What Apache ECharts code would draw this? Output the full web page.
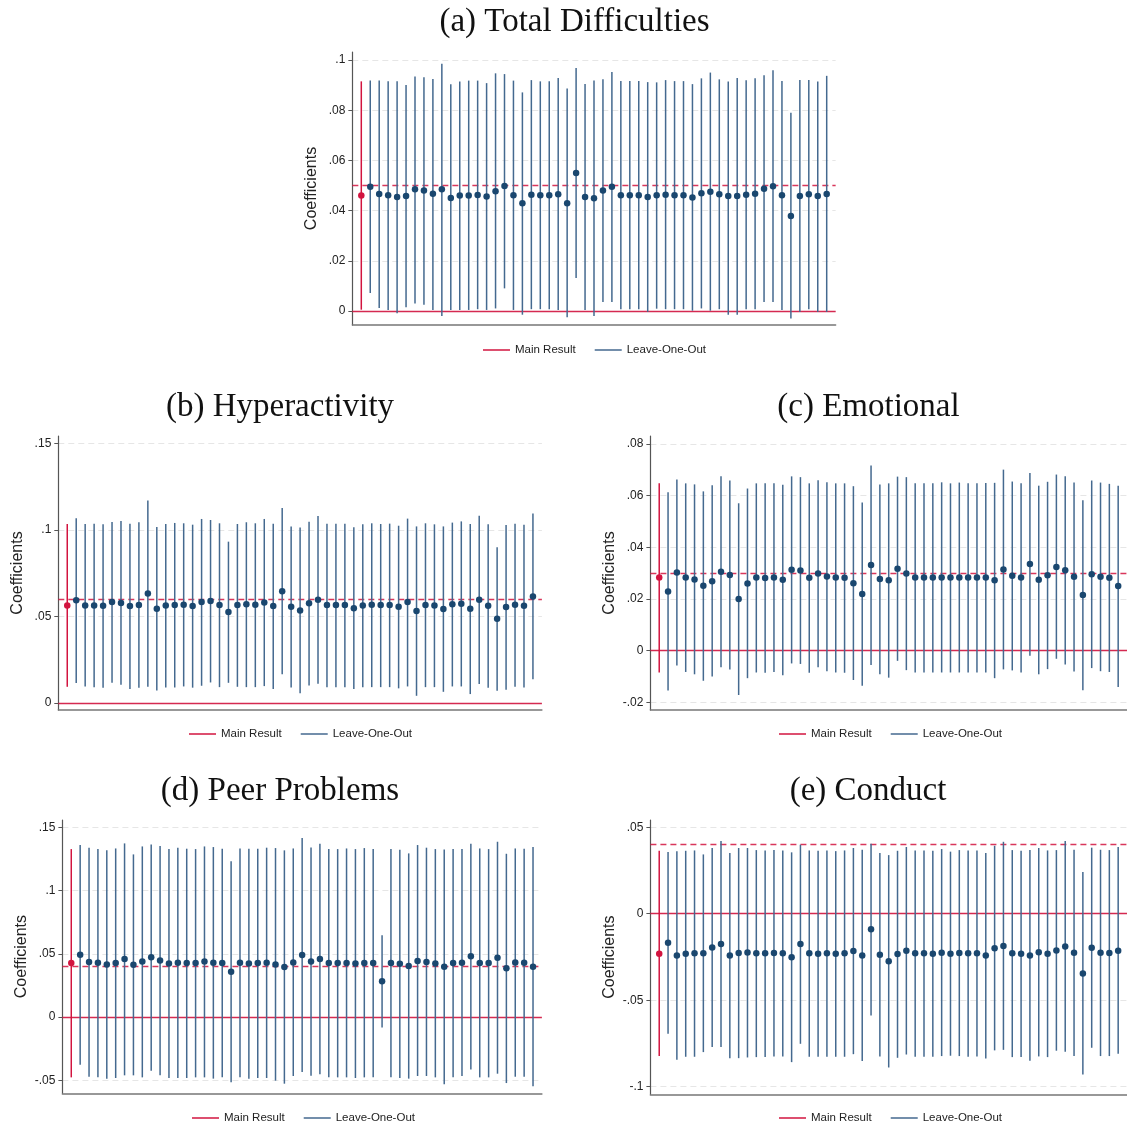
<!DOCTYPE html>
<html><head><meta charset="utf-8">
<script src="https://cdn.jsdelivr.net/npm/echarts@6/dist/echarts.min.js"></script>
<style>html,body{margin:0;padding:0;background:#fff}#c{width:1127px;height:1126px}</style>
</head><body><div id="c"></div>
<script>
// ---------------- DATA ----------------
const titles = ['(a) Total Difficulties', '(b) Hyperactivity', '(c) Emotional', '(d) Peer Problems', '(e) Conduct'];
const legendNames = ['Main Result', 'Leave-One-Out'];
const yAxisTitle = 'Coefficients';

// Main result: [estimate, lower CI, upper CI]
const mainA = [0.046, 0.0005, 0.0915];
const mainB = [0.0564, 0.0094, 0.1034];
const mainC = [0.0283, -0.0084, 0.0647];
const mainD = [0.0427, -0.0477, 0.1328];
const mainE = [-0.0231, -0.0823, 0.0364];

// dashed reference line value per panel
const refA = 0.046, refB = 0.0564, refC = 0.0283, refD = 0.0427, refE = 0.042;

// y tick values per panel
const ticksA = [0, 0.02, 0.04, 0.06, 0.08, 0.1];
const ticksB = [0, 0.05, 0.1, 0.15];
const ticksC = [-0.02, 0, 0.02, 0.04, 0.06, 0.08];
const ticksD = [-0.05, 0, 0.05, 0.1, 0.15];
const ticksE = [-0.1, -0.05, 0, 0.05];

// Leave-one-out estimates (52 each), lower and upper CI
const looEstA = [.0495,.0466,.0461,.0454,.0458,.0485,.048,.0467,.0485,.045,.046,.046,.0462,.0456,.0477,.0498,.0461,.0429,.0463,.0461,.0461,.0465,.0429,.055,.0454,.0449,.048,.0495,.0461,.0461,.0461,.0454,.0461,.0463,.0461,.0461,.0452,.0469,.0475,.0465,.0458,.0458,.0463,.0467,.0487,.0497,.0461,.0378,.0458,.0465,.0458,.0466];
const looHighA = [.0918,.0918,.0915,.0915,.090,.0934,.0931,.0924,.0985,.0903,.0914,.0918,.0918,.0908,.0947,.0944,.0918,.0871,.092,.0915,.0915,.0928,.0887,.0968,.0904,.0918,.0923,.0952,.0916,.0916,.0916,.0912,.0911,.092,.0916,.0916,.0904,.0927,.095,.0923,.0914,.0928,.0919,.0927,.0939,.0959,.0916,.079,.092,.092,.0914,.0937];
const looLowA = [.0072,.0012,.0004,-.0009,.0015,.003,.0025,.0004,-.002,.0004,.0004,.0004,.0007,.0004,.001,.009,.0004,-.0015,.0007,.0007,.0007,.0004,-.0025,.0131,.0004,-.002,.0036,.0036,.0007,.0007,.0007,-.0004,.0009,.0007,.0007,.0007,.0001,.001,.0001,.0007,-.0015,-.0015,.0007,.0007,.0036,.0036,.0004,-.003,-.0004,.0007,-.0004,-.0004];

const looEstB = [.0593,.0564,.0564,.0562,.0583,.0578,.056,.0566,.0632,.0545,.0564,.0566,.0568,.056,.0583,.0589,.0566,.0526,.0566,.057,.0568,.058,.056,.0645,.0556,.0535,.0576,.0597,.0566,.0566,.0566,.0547,.0564,.0568,.0566,.0566,.0556,.0583,.0531,.0566,.0564,.0543,.057,.0574,.0545,.0597,.0562,.0487,.0554,.0568,.0562,.0616];
const looHighB = [.1067,.1034,.1036,.1032,.1045,.1051,.1036,.1044,.1169,.1017,.1034,.104,.1038,.103,.1063,.1057,.1038,.0932,.1034,.1044,.1038,.1063,.1036,.1126,.102,.1013,.1047,.108,.1036,.1036,.1036,.1015,.1032,.1038,.1034,.1036,.1024,.1065,.102,.1038,.1032,.102,.1042,.1049,.1034,.1082,.1032,.0899,.1028,.1036,.103,.1095];
const looLowB = [.0116,.0096,.0092,.0089,.0117,.0106,.0081,.0089,.0094,.0073,.009,.009,.0096,.0089,.01,.0119,.0092,.0117,.0094,.0092,.0092,.0098,.0081,.0166,.009,.0057,.0102,.0112,.0092,.0092,.0092,.0081,.0092,.0092,.0092,.0092,.0085,.0096,.0042,.0092,.0092,.0065,.0096,.0096,.0052,.011,.0089,.0071,.0077,.0094,.009,.0137];

const looEstC = [.0229,.0302,.0283,.0275,.0251,.0269,.0305,.0293,.02,.026,.0283,.0281,.0283,.0274,.0313,.031,.0282,.0299,.0287,.0283,.0282,.0261,.0219,.0331,.0277,.0272,.0317,.0299,.0283,.0283,.0283,.0283,.0283,.0283,.0283,.0283,.0283,.0272,.0314,.029,.0283,.0335,.0274,.0292,.0324,.0311,.0286,.0215,.0296,.0286,.0282,.025];
const looHighC = [.0613,.0662,.0647,.0643,.0616,.064,.0674,.0658,.057,.0627,.0647,.0647,.0647,.0642,.0674,.0671,.0647,.0659,.0651,.0647,.0647,.0636,.0573,.0716,.0643,.0647,.0673,.0671,.0647,.0647,.0647,.0651,.0647,.065,.0647,.0647,.0648,.0649,.07,.0654,.0647,.0687,.0638,.0653,.0681,.0674,.065,.0582,.0658,.065,.0645,.0638];
const looLowC = [-.0154,-.0057,-.0082,-.0091,-.0116,-.01,-.0064,-.0072,-.0171,-.0106,-.0084,-.0085,-.0082,-.0095,-.0049,-.0051,-.0085,-.0064,-.0079,-.0084,-.0085,-.0113,-.0135,-.0055,-.0091,-.0104,-.0039,-.0075,-.0084,-.0084,-.0084,-.0084,-.0084,-.0084,-.0084,-.0084,-.0084,-.0106,-.0072,-.0076,-.0084,-.0019,-.0091,-.0071,-.0031,-.0053,-.008,-.0153,-.0067,-.0079,-.0082,-.014];

const looEstD = [.0493,.0435,.043,.0416,.0427,.0459,.0414,.044,.0472,.0448,.0424,.043,.0427,.0427,.044,.043,.0427,.0358,.043,.0424,.0427,.043,.0416,.0395,.0432,.049,.044,.0459,.0427,.0427,.0427,.0424,.0427,.0427,.0282,.0427,.0422,.0403,.0443,.0435,.0424,.0398,.0427,.043,.048,.0427,.0427,.0469,.0385,.0432,.043,.0398];
const looHighD = [.136,.1339,.1328,.1318,.1333,.1373,.1286,.1349,.1365,.1352,.1328,.1339,.1331,.1328,.1349,.1344,.1331,.1231,.1333,.1331,.1331,.1339,.1336,.1318,.1333,.1415,.1341,.137,.1328,.1328,.1333,.1328,.1336,.1328,.0646,.1328,.1323,.1294,.136,.1339,.1328,.1325,.1328,.1328,.137,.1333,.1328,.1386,.1291,.1333,.1331,.1344];
const looLowD = [-.0377,-.0472,-.0477,-.0487,-.0482,-.0461,-.0461,-.0477,-.0424,-.0461,-.0482,-.0482,-.0482,-.0477,-.0477,-.0487,-.0477,-.0516,-.0477,-.0487,-.0482,-.0482,-.0503,-.0527,-.0466,-.0435,-.0464,-.0453,-.0477,-.0477,-.0477,-.0482,-.0477,-.0477,-.0082,-.0477,-.0482,-.0487,-.0466,-.0466,-.0477,-.0532,-.0477,-.0466,-.0414,-.0477,-.0477,-.0448,-.0522,-.0472,-.0472,-.0548];

const looEstE = [-.0168,-.0241,-.0231,-.0229,-.0229,-.0195,-.0175,-.0241,-.0227,-.0224,-.0229,-.0229,-.0227,-.0229,-.0251,-.0175,-.0229,-.0231,-.0229,-.0231,-.0229,-.0216,-.0241,-.009,-.0237,-.0274,-.0233,-.0214,-.0229,-.0229,-.0231,-.0226,-.0231,-.0227,-.0229,-.0229,-.0241,-.0199,-.0187,-.0229,-.0231,-.0241,-.0222,-.0231,-.0212,-.0189,-.0226,-.0345,-.0197,-.0226,-.0227,-.0214];
const looHighE = [.0357,.0361,.0364,.0366,.0343,.038,.042,.0351,.038,.038,.0368,.0366,.0368,.0366,.0355,.0399,.0366,.0364,.0366,.0362,.0366,.038,.037,.0405,.0351,.0339,.0364,.0386,.0366,.0366,.0364,.0374,.0359,.0368,.0366,.0366,.0351,.0393,.0416,.0368,.0364,.0368,.038,.0366,.0368,.042,.037,.0241,.0382,.037,.0368,.0386];
const looLowE = [-.0694,-.0844,-.0827,-.0827,-.08,-.0771,-.0771,-.0835,-.0835,-.0831,-.0829,-.0829,-.0825,-.0825,-.0858,-.0752,-.0827,-.0827,-.0827,-.0827,-.0827,-.0812,-.0852,-.0588,-.0825,-.0889,-.0833,-.0814,-.0827,-.0827,-.0827,-.0823,-.0821,-.0823,-.0827,-.0825,-.0837,-.079,-.0787,-.0829,-.0829,-.085,-.0825,-.0829,-.0792,-.0798,-.0823,-.0929,-.0775,-.0823,-.0823,-.081];

// ---------------- LAYOUT / STYLE ----------------
const RED = '#d2143f';
const BLUE_LINE = '#44698f';
const NAVY = '#1a476f';

const panels = [
  {main: mainA, est: looEstA, lo: looLowA, hi: looHighA, ref: refA, ticks: ticksA,
   left: 352.35, width: 483.3, top: 52, height: 273, ymin: -0.0056, ymax: 0.1032, tx: 569.5, ty: 0, lx: 478, ly: 339},
  {main: mainB, est: looEstB, lo: looLowB, hi: looHighB, ref: refB, ticks: ticksB,
   left: 58.3, width: 483.6, top: 436, height: 274, ymin: -0.004, ymax: 0.1542, tx: 275, ty: 385, lx: 184, ly: 723},
  {main: mainC, est: looEstC, lo: looLowC, hi: looHighC, ref: refC, ticks: ticksC,
   left: 650.4, width: 479.5, top: 436, height: 274, ymin: -0.0229, ymax: 0.083, tx: 863.5, ty: 385, lx: 774, ly: 723},
  {main: mainD, est: looEstD, lo: looLowD, hi: looHighD, ref: refD, ticks: ticksD,
   left: 62.4, width: 479.5, top: 820, height: 273.3, ymin: -0.0603, ymax: 0.1558, tx: 275, ty: 769, lx: 187, ly: 1107},
  {main: mainE, est: looEstE, lo: looLowE, hi: looHighE, ref: refE, ticks: ticksE,
   left: 650.4, width: 479.5, top: 820, height: 274.3, ymin: -0.1044, ymax: 0.0542, tx: 863, ty: 769, lx: 774, ly: 1107}
];

function stataFmt(v) {
  let s = String(+Number(v).toFixed(4));
  return s.replace(/^0\./, '.').replace(/^-0\./, '-.');
}

function ciRender(color) {
  return function (params, api) {
    const x = api.value(0);
    const a = api.coord([x, api.value(1)]);
    const b = api.coord([x, api.value(2)]);
    return {type: 'line', shape: {x1: a[0], y1: a[1], x2: b[0], y2: b[1]},
            style: {stroke: color, lineWidth: 1.5}};
  };
}

const option = {
  backgroundColor: '#fff',
  animation: false,
  title: [], grid: [], xAxis: [], yAxis: [], legend: [], series: []
};

panels.forEach((p, i) => {
  option.title.push({text: titles[i], left: p.tx, top: p.ty, textAlign: 'center',
    textStyle: {fontFamily: 'Liberation Serif', fontSize: 33, fontWeight: 'normal', color: '#111', lineHeight: 34}});
  option.grid.push({left: p.left, top: p.top, width: p.width, height: p.height, containLabel: false});
  option.xAxis.push({gridIndex: i, type: 'value', min: -1, max: 53,
    axisLine: {show: true, onZero: false, lineStyle: {color: '#777', width: 1.5}},
    axisTick: {show: false}, axisLabel: {show: false}, splitLine: {show: false}});
  option.yAxis.push({gridIndex: i, type: 'value', min: p.ymin, max: p.ymax,
    axisLine: {show: true, onZero: false, lineStyle: {color: '#555', width: 1.2}},
    axisTick: {show: true, length: 4, lineStyle: {color: '#555'}, customValues: p.ticks},
    axisLabel: {customValues: p.ticks, formatter: stataFmt, fontSize: 12, color: '#222',
      fontFamily: 'Liberation Sans', margin: 7},
    splitLine: {show: true, lineStyle: {color: '#e6e6e6', type: [6, 4], width: 1}},
    name: yAxisTitle, nameLocation: 'middle', nameGap: 33, nameRotate: 90,
    nameTextStyle: {fontSize: 16, color: '#222', fontFamily: 'Liberation Sans'}});
  option.legend.push({left: p.lx, top: p.ly, orient: 'horizontal', itemWidth: 27, itemHeight: 1.5, itemGap: 19,
    textStyle: {fontSize: 11.5, color: '#222', fontFamily: 'Liberation Sans'},
    data: [{name: legendNames[0], icon: 'rect', itemStyle: {color: RED}},
           {name: legendNames[1], icon: 'rect', itemStyle: {color: BLUE_LINE}}],
    selectedMode: false});

  const looCI = p.est.map((v, k) => [k + 1, p.lo[k], p.hi[k]]);
  const looPts = p.est.map((v, k) => [k + 1, v]);

  // reference lines (dashed main estimate line, solid zero line)
  option.series.push({type: 'custom', name: legendNames[0], xAxisIndex: i, yAxisIndex: i, z: 2,
    data: [[0, p.main[1], p.main[2]]], encode: {x: 0, y: [1, 2]},
    itemStyle: {color: RED}, renderItem: ciRender(RED), silent: true,
    markLine: {silent: true, symbol: 'none', label: {show: false}, z: 1, animation: false,
      data: [{yAxis: p.ref, lineStyle: {type: [6, 4], color: RED, width: 1.4, opacity: 0.85}},
             {yAxis: 0, lineStyle: {type: 'solid', color: RED, width: 1.4, opacity: 0.9}}]}});
  option.series.push({type: 'custom', name: legendNames[1], xAxisIndex: i, yAxisIndex: i, z: 3,
    data: looCI, encode: {x: 0, y: [1, 2]}, itemStyle: {color: BLUE_LINE},
    renderItem: ciRender(BLUE_LINE), silent: true});
  option.series.push({type: 'scatter', name: legendNames[1], xAxisIndex: i, yAxisIndex: i, z: 5,
    data: looPts, symbolSize: 6.5, itemStyle: {color: NAVY, opacity: 1}, silent: true});
  option.series.push({type: 'scatter', name: legendNames[0], xAxisIndex: i, yAxisIndex: i, z: 5,
    data: [[0, p.main[0]]], symbolSize: 6.5, itemStyle: {color: RED, opacity: 1}, silent: true});
});

const chart = echarts.init(document.getElementById('c'), null, {renderer: 'canvas'});
chart.setOption(option);
</script>
</body></html>
